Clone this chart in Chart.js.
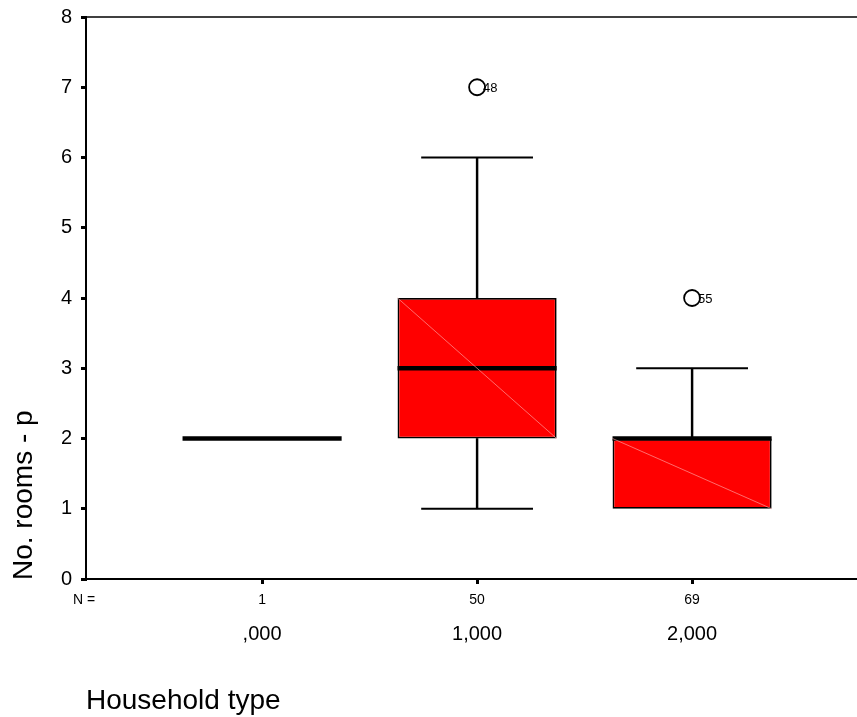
<!DOCTYPE html>
<html>
<head>
<meta charset="utf-8">
<script src="https://cdn.jsdelivr.net/npm/chart.js@4/dist/chart.umd.min.js"></script>
<style>
  html, body { margin: 0; padding: 0; background: #fff; }
  #wrap { width: 857px; height: 717px; }
</style>
</head>
<body>
<div id="wrap"><canvas id="box" width="857" height="717"></canvas></div>
<script>
// data
const categories = [',000', '1,000', '2,000'];
const nCounts = [1, 50, 69];
const q1 = [2, 2, 1];
const medians = [2, 3, 2];
const q3 = [2, 4, 2];
const whiskerLow = [2, 1, 1];
const whiskerHigh = [2, 6, 3];
const outlierValues = [null, 7, 4];
const outlierIds = [null, '48', '55'];
const yTicks = [0, 1, 2, 3, 4, 5, 6, 7, 8];

const FONT = "'Liberation Sans', Arial, sans-serif";
const boxWidth = 0.74;   // in category units
const capWidth = 0.52;

const idx = categories.map((c, i) => i);

// half width in pixels of a span given in x units
function halfSpan(chart, units) {
    const x = chart.scales.x;
    return Math.abs(x.getPixelForValue(units / 2) - x.getPixelForValue(0));
}

const boxes = idx.map(i => ({ x: i, y: [q1[i], q3[i]] }));
const upperStems = idx.filter(i => whiskerHigh[i] > q3[i]).map(i => ({ x: i, y: [q3[i], whiskerHigh[i]] }));
const lowerStems = idx.filter(i => whiskerLow[i] < q1[i]).map(i => ({ x: i, y: [whiskerLow[i], q1[i]] }));
const caps = [];
idx.forEach(i => {
    if (whiskerHigh[i] > q3[i]) caps.push({ x: i, y: whiskerHigh[i] });
    if (whiskerLow[i] < q1[i]) caps.push({ x: i, y: whiskerLow[i] });
});
const outliers = idx.filter(i => outlierValues[i] !== null).map(i => ({ x: i, y: outlierValues[i], id: outlierIds[i] }));
const medianPts = idx.map(i => ({ x: i, y: medians[i] }));

const extras = {
    id: 'extras',
    afterDatasetsDraw(chart) {
        const ctx = chart.ctx;
        // faint diagonal inside boxes (SPSS artefact)
        const boxMeta = chart.getDatasetMeta(4);
        ctx.save();
        ctx.strokeStyle = 'rgba(255,170,170,0.9)';
        ctx.lineWidth = 0.7;
        boxMeta.data.forEach(el => {
            const p = el.getProps(['x', 'y', 'base', 'width'], true);
            if (Math.abs(p.base - p.y) < 2) return;
            ctx.beginPath();
            ctx.moveTo(p.x - p.width / 2, Math.min(p.y, p.base));
            ctx.lineTo(p.x + p.width / 2, Math.max(p.y, p.base));
            ctx.stroke();
        });
        ctx.restore();
    },
    afterDraw(chart) {
        const ctx = chart.ctx;
        const area = chart.chartArea;
        const xs = chart.scales.x;
        ctx.save();

        // top frame line
        ctx.strokeStyle = '#000';
        ctx.lineWidth = 1.5;
        ctx.beginPath();
        ctx.moveTo(area.left, area.top);
        ctx.lineTo(chart.width, area.top);
        ctx.stroke();

        // outlier case numbers
        ctx.fillStyle = '#000';
        ctx.font = '13px ' + FONT;
        ctx.textAlign = 'left';
        ctx.textBaseline = 'middle';
        const om = chart.getDatasetMeta(2);
        om.data.forEach((pt, k) => {
            ctx.fillText(outliers[k].id, pt.x + 6, pt.y + 1);
        });

        // N row
        ctx.font = '14px ' + FONT;
        ctx.textBaseline = 'alphabetic';
        ctx.textAlign = 'center';
        ctx.fillText('N =', 84, 604);
        nCounts.forEach((n, i) => {
            ctx.fillText(String(n), xs.getPixelForValue(i), 604);
        });

        // x title
        ctx.font = '28px ' + FONT;
        ctx.textAlign = 'left';
        ctx.fillText('Household type', area.left, 709);

        // y title (starts at the bottom of the axis)
        ctx.translate(32, area.bottom + 1);
        ctx.rotate(-Math.PI / 2);
        ctx.font = '28px ' + FONT;
        ctx.fillText('No. rooms - p', 0, 0);
        ctx.restore();
    }
};

new Chart(document.getElementById('box'), {
    type: 'bar',
    data: {
        datasets: [
            {
                type: 'line',
                label: 'median',
                data: medianPts,
                showLine: false,
                pointStyle: 'line',
                pointRadius: (c) => halfSpan(c.chart, boxWidth),
                pointBorderWidth: 4.5,
                pointBorderColor: '#000'
            },
            {
                type: 'line',
                label: 'caps',
                data: caps,
                showLine: false,
                pointStyle: 'line',
                pointRadius: (c) => halfSpan(c.chart, capWidth),
                pointBorderWidth: 1.8,
                pointBorderColor: '#000'
            },
            {
                type: 'line',
                label: 'outliers',
                data: outliers,
                showLine: false,
                pointStyle: 'circle',
                pointRadius: 8,
                pointBorderWidth: 1.8,
                pointBorderColor: '#000',
                pointBackgroundColor: '#fff'
            },
            {
                label: 'stems',
                data: upperStems.concat(lowerStems),
                grouped: false,
                barThickness: 1.8,
                backgroundColor: '#000',
                borderWidth: 0
            },
            {
                label: 'box',
                data: boxes,
                grouped: false,
                categoryPercentage: 1,
                barPercentage: boxWidth,
                backgroundColor: '#ff0000',
                borderColor: '#000',
                borderWidth: 1.8,
                borderSkipped: false
            }
        ]
    },
    options: {
        responsive: false,
        animation: false,
        events: [],
        layout: { autoPadding: false, padding: { top: 17, right: 0, left: 0, bottom: 0 } },
        plugins: { legend: { display: false }, tooltip: { enabled: false } },
        scales: {
            x: {
                type: 'linear',
                bounds: 'data',
                offset: false,
                min: -0.819,
                max: 2.767,
                afterBuildTicks: (s) => { s.ticks = idx.map(v => ({ value: v })); },
                afterFit: (s) => { s.height = 138; s.paddingLeft = 0; s.paddingRight = 0; },
                ticks: {
                    callback: (v) => categories[v],
                    color: '#000',
                    font: { family: FONT, size: 20 },
                    padding: 38,
                    maxRotation: 0,
                    autoSkip: false
                },
                grid: { offset: false, drawOnChartArea: false, drawTicks: true, tickLength: 5, lineWidth: 3, color: '#000' },
                border: { display: true, color: '#000', width: 2 }
            },
            y: {
                type: 'linear',
                min: yTicks[0],
                max: yTicks[yTicks.length - 1],
                afterBuildTicks: (s) => { s.ticks = yTicks.map(v => ({ value: v })); },
                afterFit: (s) => { s.width = 86; s.paddingTop = 0; s.paddingBottom = 0; },
                ticks: {
                    color: '#000',
                    font: { family: FONT, size: 20 },
                    padding: 9
                },
                grid: { drawOnChartArea: false, drawTicks: true, tickLength: 5, lineWidth: 3, color: '#000' },
                border: { display: true, color: '#000', width: 2 }
            }
        }
    },
    plugins: [extras]
});
</script>
</body>
</html>
